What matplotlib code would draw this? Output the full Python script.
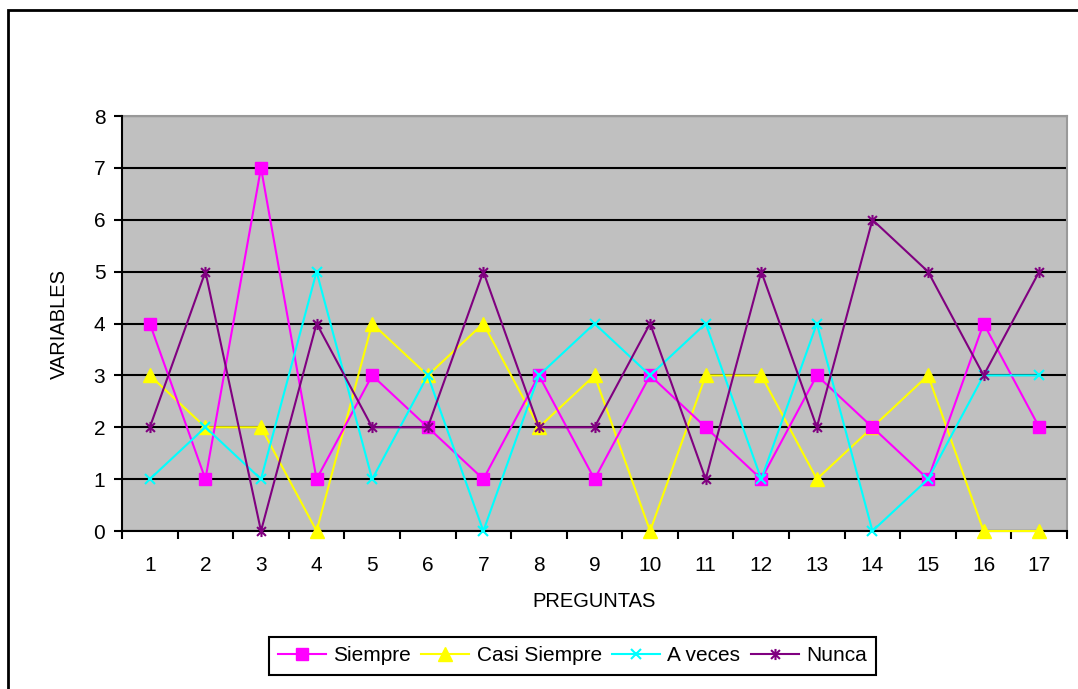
import matplotlib
matplotlib.use('Agg')
import matplotlib.pyplot as plt
from matplotlib.path import Path
from matplotlib.patches import Rectangle

plt.rcParams['font.family'] = ['Liberation Sans', 'DejaVu Sans']

preguntas = list(range(1, 18))
siempre = [4, 1, 7, 1, 3, 2, 1, 3, 1, 3, 2, 1, 3, 2, 1, 4, 2]
casi_siempre = [3, 2, 2, 0, 4, 3, 4, 2, 3, 0, 3, 3, 1, 2, 3, 0, 0]
a_veces = [1, 2, 1, 5, 1, 3, 0, 3, 4, 3, 4, 1, 4, 0, 1, 3, 3]
nunca = [2, 5, 0, 4, 2, 2, 5, 2, 2, 4, 1, 5, 2, 6, 5, 3, 5]

# asterisco estilo Excel: vertical + X
star = Path([(0, -1), (0, 1), (-0.8, -0.8), (0.8, 0.8), (-0.8, 0.8), (0.8, -0.8)],
            [Path.MOVETO, Path.LINETO, Path.MOVETO, Path.LINETO, Path.MOVETO, Path.LINETO])

fig = plt.figure(figsize=(10.78, 6.89), dpi=100)
ax = fig.add_axes([0.1132, 0.2293, 0.8766, 0.6023])
ax.set_facecolor('#C0C0C0')

ax.plot(preguntas, siempre, color='#FF00FF', lw=1.5, marker='s', ms=8.5, label='Siempre', clip_on=False, zorder=5)
ax.plot(preguntas, casi_siempre, color='#FFFF00', lw=1.5, marker='^', ms=10, label='Casi Siempre', clip_on=False, zorder=4)
ax.plot(preguntas, a_veces, color='#00FFFF', lw=1.5, marker='x', ms=7, mew=1.5, label='A veces', clip_on=False, zorder=6)
ax.plot(preguntas, nunca, color='#800080', lw=1.5, marker=star, ms=8, mew=1.5, label='Nunca', clip_on=False, zorder=7)

ax.set_xlim(0.5, 17.5)
ax.set_ylim(0, 8)
ax.set_yticks(range(0, 9))
ax.set_xticks(preguntas)
ax.set_xticks([i + 0.5 for i in range(0, 18)], minor=True)
ax.tick_params(axis='x', which='major', length=0, pad=18, labelsize=15)
ax.tick_params(axis='x', which='minor', length=6, width=1.5, direction='out', color='black')
ax.tick_params(axis='y', length=6, width=1.5, direction='out', pad=6, labelsize=15)
ax.yaxis.grid(True, color='black', lw=1.5)
ax.set_axisbelow(True)

for s in ['top', 'right']:
    ax.spines[s].set_color('#999999')
    ax.spines[s].set_linewidth(1.5)
for s in ['left', 'bottom']:
    ax.spines[s].set_color('black')
    ax.spines[s].set_linewidth(1.5)
    ax.spines[s].set_zorder(3)

ax.set_xlabel('PREGUNTAS', fontsize=14.5, labelpad=12)
ax.set_ylabel('VARIABLES', fontsize=14.5, labelpad=18)

leg = fig.legend(loc='center', bbox_to_anchor=(0.531, 0.048), ncol=4, fontsize=15,
                 fancybox=False, edgecolor='black', framealpha=1, handlelength=2.3,
                 columnspacing=0.5, handletextpad=0.35, borderpad=0.45, borderaxespad=0)
leg.get_frame().set_linewidth(1.5)

fig.patches.append(Rectangle((8 / 1078, -0.05), 1.05, 1 - 10 / 689 + 0.05,
                             transform=fig.transFigure, fill=False, ec='black', lw=2))

fig.savefig('out.png', dpi=100)
